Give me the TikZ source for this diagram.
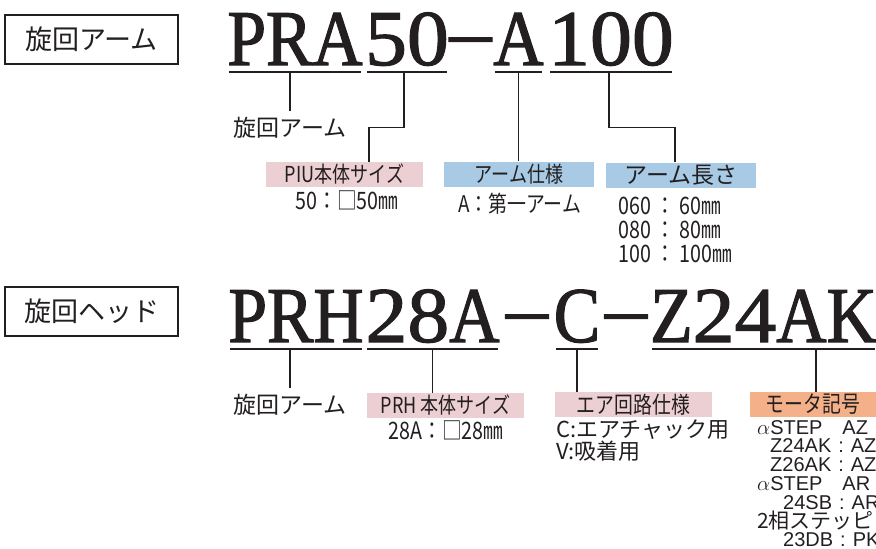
\documentclass[tikz,border=0pt]{standalone}
\usepackage{fontspec}
\usepackage{xcolor}
\usepackage{tikz}
\setmainfont{Liberation Sans}
\newfontfamily\jpfont{Noto Sans CJK JP}
\newfontfamily\jpcond[FakeStretch=0.82]{Noto Sans CJK JP}
\newfontfamily\codecaps[FakeStretch=0.88,FakeBold=1.5]{Liberation Serif}
\newfontfamily\codedigits[FakeStretch=1.06,FakeBold=1.5]{Liberation Serif}
\definecolor{inkgray}{RGB}{35,31,32}
\definecolor{sizepink}{RGB}{236,207,211}
\definecolor{specblue}{RGB}{168,202,228}
\definecolor{motororange}{RGB}{244,177,137}
\tikzset{
  partbox/.style  = {rectangle, draw=inkgray, line width=2pt, minimum width=173pt,
                     minimum height=49pt, inner sep=0pt, text=inkgray,
                     font=\jpfont\fontsize{27}{27}\selectfont},
  codeseg/.style  = {inner xsep=0pt, inner ysep=6.5pt, text depth=0pt, anchor=base,
                     text=inkgray, font=\fontsize{79}{79}\selectfont},
  codeline/.style = {draw=inkgray, line width=2.4pt, shorten <=2pt, shorten >=2pt},
  leader/.style   = {draw=inkgray, line width=1.4pt},
  plainlbl/.style = {inner xsep=0pt, inner ysep=6pt, text=inkgray,
                     font=\jpfont\fontsize{23}{23}\selectfont},
  sizetag/.style  = {rectangle, fill=sizepink, minimum width=157pt, minimum height=25pt,
                     inner sep=0pt, text=inkgray, font=\jpcond\fontsize{22}{22}\selectfont},
  spectag/.style  = {sizetag, fill=specblue, minimum width=150pt},
  motortag/.style = {sizetag, fill=motororange, minimum width=126pt},
  valtxt/.style   = {inner sep=0pt, align=left, text=inkgray,
                     font=\jpcond\fontsize{24}{24}\selectfont},
}

\begin{document}
\begin{tikzpicture}[x=1pt, y=-1pt]
  \clip (0,0) rectangle (876,549);

  % PRA50-A100
  \node[partbox] (armbox) at (91.5,39.5) {旋回アーム};
  \node[codeseg] (pra)   at (295,65)   {\codecaps PRA};
  \node[codeseg] (t50)   at (407,65)   {\codedigits 50};
  \node[codeseg] (dasha) at (470.5,65) {\codedigits\raisebox{7pt}{–}};
  \node[codeseg] (ta)    at (518.5,65) {\codecaps A};
  \node[codeseg] (t100)  at (611,65)   {\codedigits 100};

  \node[plainlbl] (arm1) at (290,127.5) {旋回アーム};
  \node[sizetag]  (size1) at (344.5,174.5) {PIU本体サイズ};
  \node[spectag]  (spec1) at (519,174)     {アーム仕様};
  \node[spectag, font=\jpfont\fontsize{23}{23}\selectfont] (len1) at (681,175) {アーム長さ};
  \node[valtxt] (v50)  at (347,200)   {50：□50㎜};
  \node[valtxt, font=\jpcond\fontsize{23}{23}\selectfont] (va) at (519.5,204) {A：第一アーム};
  \node[valtxt, anchor=north west] (vlen) at (618,197)
        {060 ： 60㎜\\080 ： 80㎜\\100 ： 100㎜};

  % PRH28A-C-Z24AK
  \node[partbox] (headbox) at (91.5,311) {旋回ヘッド};
  \node[codeseg] (prh)   at (296,342)   {\codecaps PRH};
  \node[codeseg] (t28a)  at (432.5,342) {\codedigits 28\codecaps A};
  \node[codeseg] (dashb) at (527,342)   {\codedigits\raisebox{7pt}{–}};
  \node[codeseg] (tc)    at (577,342)   {\codecaps C};
  \node[codeseg] (dashc) at (626,342)   {\codedigits\raisebox{7pt}{–}};
  \node[codeseg, anchor=base west] (tz) at (650,342) {\codecaps Z\codedigits 24\codecaps AK};

  \node[plainlbl] (arm2)   at (290,404.5)   {旋回アーム};
  \node[sizetag]  (size2)  at (445.5,405.5) {PRH 本体サイズ};
  \node[sizetag, font=\jpcond\fontsize{23}{23}\selectfont] (air2) at (633.5,404.5) {エア回路仕様};
  \node[motortag, font=\jpcond\fontsize{23}{23}\selectfont] (motor2) at (813,404.5) {モータ記号};
  \node[valtxt] (v28) at (446,430) {28A：□28㎜};
  \node[valtxt, anchor=north west, font=\jpfont\fontsize{22}{22}\selectfont] (vair) at (556,420)
        {C:エアチャック用\\V:吸着用};
  \node[valtxt, anchor=north west, font=\fontsize{20}{18.8}\selectfont] (vmotor) at (757,420)
        {$\alpha$STEP\quad AZ\\
         \hspace*{13pt}Z24AK\hspace{7pt}:\hspace{7pt}AZ\\
         \hspace*{13pt}Z26AK\hspace{7pt}:\hspace{7pt}AZ\\
         $\alpha$STEP\quad AR\\
         \hspace*{26pt}24SB\hspace{7pt}:\hspace{7pt}AR\\
         {\jpfont\fontsize{21}{18.8}\selectfont 2相ステッピ}\\
         \hspace*{26pt}23DB\hspace{7pt}:\hspace{7pt}PK};

  % underlines and leaders
  \foreach \seg in {pra,t50,ta,t100,prh,t28a,tc,tz}
    \draw[codeline] (\seg.south west) -- (\seg.south east);

  \draw[leader] (arm1.north) -- (arm1.north |- pra.south);
  \draw[leader] ([xshift=-3pt]t50.south) -- ++(0,55.5) -| ([xshift=24.5pt]size1.north);
  \draw[leader] (ta.south) -- (ta.south |- spec1.north);
  \draw[leader] ([xshift=-2pt]t100.south) -- ++(0,55.5) -| ([xshift=-6pt]len1.north);

  \draw[leader] (arm2.north) -- (arm2.north |- prh.south);
  \draw[leader] (t28a.south) -- (t28a.south |- size2.north);
  \draw[leader] (tc.south) -- (tc.south |- air2.north);
  \draw[leader] ([xshift=3pt]motor2.north) -- ([xshift=3pt]motor2.north |- tz.south);
\end{tikzpicture}
\end{document}
